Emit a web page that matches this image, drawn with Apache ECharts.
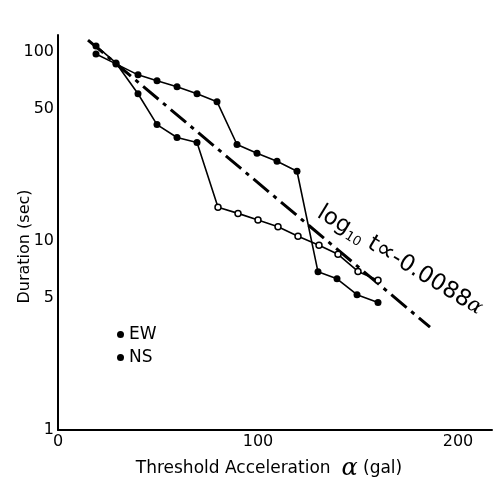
<!DOCTYPE html>
<html>
<head>
<meta charset="utf-8">
<script src="https://cdn.jsdelivr.net/npm/echarts@6/dist/echarts.min.js"></script>
<style>html,body{margin:0;padding:0;background:#fff}#c{width:493px;height:486px}</style>
</head>
<body>
<div id="c"></div>
<script>
// Threshold acceleration (gal) and duration (sec)
const xEW = [19, 29, 40, 49.5, 59.5, 69.5, 80, 90, 100, 110, 120, 130.5, 140, 150, 160];
const yEW = [107.6, 87.5, 60.1, 41.3, 35.3, 33.2, 15.1, 14.0, 12.9, 11.9, 10.6, 9.5, 8.5, 6.9, 6.2];
const xNS = [19, 29, 40, 49.5, 59.5, 69.5, 79.5, 89.5, 99.5, 109.5, 119.5, 130, 139.5, 149.5, 160];
const yNS = [97.6, 86.5, 75.7, 70.4, 65.5, 60.1, 54.6, 32.4, 29.1, 26.4, 23.4, 6.87, 6.31, 5.2, 4.72];
// fitted line endpoints
const xFit = [15, 186];
const yFit = [115.6, 3.5];
const yTickLabels = [1, 5, 10, 50, 100];
const xTickLabels = [0, 100, 200];
const seriesNames = ['EW', 'NS'];

const FONT = 'DejaVu Sans';
const chart = echarts.init(document.getElementById('c'), null, {renderer: 'canvas'});

const openFrom = 6;
const ewData = xEW.map((x, i) => {
  const d = {value: [x, yEW[i]]};
  if (i >= openFrom) {
    d.symbolSize = 6;
    d.itemStyle = {color: '#fff', borderColor: '#000', borderWidth: 1.5};
  }
  return d;
});
const nsData = xNS.map((x, i) => [x, yNS[i]]);
const fitData = xFit.map((x, i) => [x, yFit[i]]);

chart.setOption({
  animation: false,
  backgroundColor: '#fff',
  grid: {left: 58, right: 1, top: 35, bottom: 54},
  xAxis: {
    type: 'value', min: 0, max: 217, interval: 100,
    name: 'Threshold Acceleration  {a|α} (gal)',
    nameLocation: 'middle', nameGap: 27,
    nameTextStyle: {color: '#000', fontSize: 17, fontFamily: FONT, padding: [0, 12, 0, 0],
      rich: {a: {fontSize: 24, fontStyle: 'italic', fontFamily: 'DejaVu Serif', color: '#000'}}},
    axisLine: {show: true, lineStyle: {color: '#000', width: 2}},
    axisTick: {show: false},
    splitLine: {show: false},
    axisLabel: {color: '#000', fontSize: 16, fontFamily: FONT, margin: 4,
      customValues: xTickLabels}
  },
  yAxis: {
    type: 'log', logBase: 10, min: 1, max: 123,
    name: 'Duration (sec)', nameLocation: 'middle', nameGap: 25, nameMoveOverlap: false,
    nameTextStyle: {color: '#000', fontSize: 16, fontFamily: FONT, padding: [0, 0, 0, -28]},
    axisLine: {show: true, lineStyle: {color: '#000', width: 2}},
    axisTick: {show: false},
    splitLine: {show: false},
    minorSplitLine: {show: false},
    axisLabel: {color: '#000', fontSize: 16, fontFamily: FONT, margin: 4,
      customValues: yTickLabels}
  },
  legend: {
    data: seriesNames.map(n => ({name: n, icon: 'circle'})),
    orient: 'vertical', left: 112, top: 321, itemWidth: 7, itemHeight: 7, itemGap: 6,
    textStyle: {color: '#000', fontSize: 17, fontFamily: FONT},
    itemStyle: {color: '#000', borderWidth: 0}
  },
  series: [
    {
      name: 'EW', type: 'line', data: ewData, symbol: 'circle', symbolSize: 7,
      lineStyle: {color: '#000', width: 1.6}, itemStyle: {color: '#000'}, z: 3
    },
    {
      name: 'NS', type: 'line', data: nsData, symbol: 'circle', symbolSize: 7,
      lineStyle: {color: '#000', width: 1.6}, itemStyle: {color: '#000'}, z: 3
    },
    {
      name: 'fit', type: 'line', data: fitData, symbol: 'none',
      lineStyle: {color: '#000', width: 3, type: [20, 6, 4, 6]}, z: 2
    }
  ],
  graphic: [{
    type: 'text', x: 326, y: 200, rotation: -0.55,
    style: {
      text: '{a|log}{s|10}{a| t}{p|∝}{a|-0.0088}{g|α}',
      fill: '#000',
      rich: {
        a: {fontSize: 23, fontFamily: FONT, fill: '#000'},
        s: {fontSize: 13, fontFamily: FONT, fill: '#000', verticalAlign: 'bottom', padding: [10, 0, 0, 0]},
        p: {fontSize: 26, fontFamily: FONT, fill: '#000'},
        g: {fontSize: 21, fontFamily: 'DejaVu Serif', fontStyle: 'italic', fill: '#000'}
      }
    }
  }]
});
</script>
</body>
</html>
